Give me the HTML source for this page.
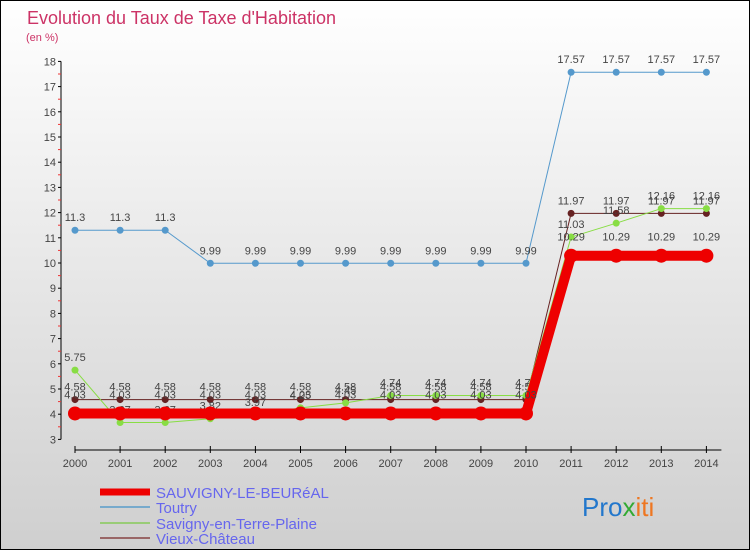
<!DOCTYPE html>
<html><head><meta charset="utf-8"><style>
html,body{margin:0;padding:0;}
body{width:750px;height:550px;overflow:hidden;}
svg text{font-family:"Liberation Sans",sans-serif;}
</style></head><body>
<svg id="chart" width="750" height="550" xmlns="http://www.w3.org/2000/svg">
<defs><linearGradient id="bg" x1="0" y1="0" x2="0" y2="1"><stop offset="0" stop-color="#ffffff"/><stop offset="1" stop-color="#cfcfcf"/></linearGradient></defs>
<rect x="0.5" y="0.5" width="749" height="549" fill="url(#bg)" stroke="#000"/>
<text x="27" y="24" font-size="18" fill="#cc3366">Evolution du Taux de Taxe d'Habitation</text>
<text x="26" y="41" font-size="11" fill="#cc3366">(en %)</text>
<g id="axes"></g><g id="series"></g>
<g>
<line x1="100" y1="492" x2="150" y2="492" stroke="#ee0000" stroke-width="7"/>
<text x="156" y="498" font-size="15" fill="#6666ee">SAUVIGNY-LE-BEURéAL</text>
<line x1="100" y1="507" x2="150" y2="507" stroke="#77aacc" stroke-width="2"/>
<text x="156" y="513" font-size="15" fill="#6666ee">Toutry</text>
<line x1="100" y1="523" x2="150" y2="523" stroke="#99cc77" stroke-width="2"/>
<text x="156" y="529" font-size="15" fill="#6666ee">Savigny-en-Terre-Plaine</text>
<line x1="100" y1="538" x2="150" y2="538" stroke="#996666" stroke-width="2"/>
<text x="156" y="544" font-size="15" fill="#6666ee">Vieux-Château</text>
</g>
<text x="582" y="516" font-size="26"><tspan fill="#2277cc">Pro</tspan><tspan fill="#33aa33">x</tspan><tspan fill="#ee7722">iti</tspan></text>
</svg>
<script>
const years=[2000,2001,2002,2003,2004,2005,2006,2007,2008,2009,2010,2011,2012,2013,2014];
const yTicks=[3,4,5,6,7,8,9,10,11,12,13,14,15,16,17,18];
const sauvigny=[4.03,4.03,4.03,4.03,4.03,4.03,4.03,4.03,4.03,4.03,4.03,10.29,10.29,10.29,10.29];
const toutry=[11.3,11.3,11.3,9.99,9.99,9.99,9.99,9.99,9.99,9.99,9.99,17.57,17.57,17.57,17.57];
const savignyTP=[5.75,3.67,3.67,3.82,3.97,4.25,4.45,4.74,4.74,4.74,4.74,11.03,11.58,12.16,12.16];
const vieux=[4.58,4.58,4.58,4.58,4.58,4.58,4.58,4.58,4.58,4.58,4.58,11.97,11.97,11.97,11.97];
const NS="http://www.w3.org/2000/svg";
const X=i=>75+i*45.1;
const Y=v=>439.4-(v-3)*25.2;
function mk(tag,attrs,parent,txt){const e=document.createElementNS(NS,tag);for(const k in attrs)e.setAttribute(k,attrs[k]);if(txt!==undefined)e.textContent=txt;parent.appendChild(e);return e;}
const ax=document.getElementById('axes');
let a=mk('line',{x1:61,y1:Y(18),x2:61,y2:Y(3),stroke:'#000','stroke-width':1},ax);


a=mk('line',{x1:X(0),y1:450,x2:X(14)+15,y2:450,stroke:'#000','stroke-width':1},ax);


yTicks.forEach(t=>{
  mk('line',{x1:58,y1:Y(t),x2:61,y2:Y(t),stroke:'#000'},ax);
  if(t<18)mk('line',{x1:58,y1:Y(t+0.5),x2:61,y2:Y(t+0.5),stroke:'#e33'},ax);
  const l=mk('text',{x:56,y:Y(t)+4,'font-size':11,fill:'#444','text-anchor':'end'},ax,t);
  
  
});
years.forEach((yr,i)=>{
  mk('line',{x1:X(i),y1:446,x2:X(i),y2:453,stroke:'#000'},ax);
  const l=mk('text',{x:X(i),y:467,'font-size':11,fill:'#444','text-anchor':'middle'},ax,yr);
  
  
});
const sg=document.getElementById('series');
function series(vals,color,width,r,name,labelOff){
  const g=mk('g',{},sg);
  
  
  mk('polyline',{points:vals.map((v,i)=>X(i)+','+Y(v)).join(' '),fill:'none',stroke:color,'stroke-width':width,'stroke-linejoin':'round'},g);
  vals.forEach((v,i)=>{
    const c=mk('circle',{cx:X(i),cy:Y(v),r:r,fill:color},g);
    
    
    mk('text',{x:X(i),y:Y(v)-labelOff,'font-size':11,fill:'#444','text-anchor':'middle'},g,String(v));
  });
}
series(toutry,'#5599cc',1,3.5,'series-toutry',9);
series(vieux,'#662222',1,3.5,'series-vieux-chateau',9);
series(savignyTP,'#88dd44',1,3.5,'series-savigny-en-terre-plaine',9);
series(sauvigny,'#ee0000',10,7,'series-sauvigny-le-beureal',15);
</script>
</body></html>
